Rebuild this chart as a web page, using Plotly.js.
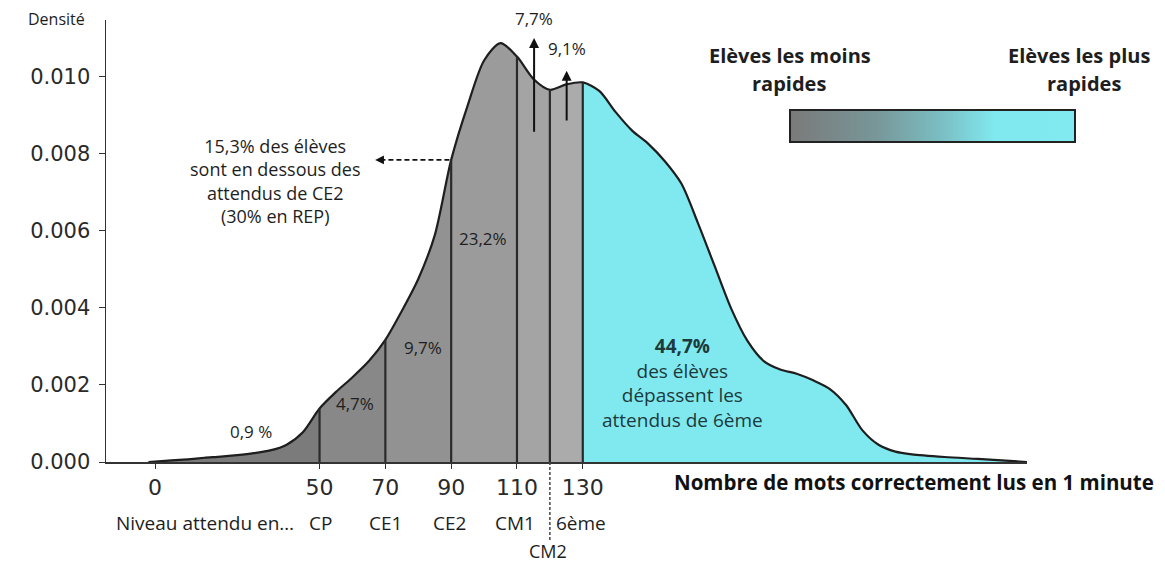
<!DOCTYPE html>
<html>
<head>
<meta charset="utf-8">
<script src="https://cdn.plot.ly/plotly-3.0.1.min.js"></script>
<style>html,body{margin:0;padding:0;background:#fff;}#chart{width:1165px;height:564px;}</style>
</head>
<body>
<div id="chart"></div>
<script>
// ---- data ----
const xVals = [-2, 5, 10, 15, 20, 25, 30, 35, 40, 45, 50, 55, 60, 65, 70, 75, 80, 85, 90, 95, 100, 105, 110, 115, 120, 125, 130, 135, 140, 145, 150, 155, 160, 165, 170, 175, 180, 185, 190, 195, 200, 205, 210, 215, 220, 225, 230, 240, 250, 265];
const density = [0.00000, 0.00004, 0.00007, 0.00011, 0.00014, 0.00018, 0.00023, 0.00030, 0.00045, 0.00078, 0.00139, 0.00182, 0.00220, 0.00262, 0.00317, 0.00392, 0.00475, 0.00588, 0.00784, 0.00925, 0.01042, 0.01087, 0.01052, 0.00994, 0.00966, 0.00980, 0.00985, 0.00963, 0.00908, 0.00860, 0.00825, 0.00780, 0.00722, 0.00620, 0.00510, 0.00400, 0.00315, 0.00262, 0.00240, 0.00229, 0.00212, 0.00190, 0.00148, 0.00082, 0.00044, 0.00027, 0.00020, 0.00013, 0.00008, 0.00000];
const boundaries = [50, 70, 90, 110, 120, 130];
const segmentColors = ['#7b7b7b', '#888888', '#929292', '#9b9b9b', '#a4a4a4', '#ababab', '#80e9ef'];
const xTickVals = [0, 50, 70, 90, 110, 130];
const yTickVals = [0, 0.002, 0.004, 0.006, 0.008, 0.010];
const levelLabels = ['Niveau attendu en…', 'CP', 'CE1', 'CE2', 'CM1', '6ème'];
const levelX = [15.2, 50.3, 70, 89.5, 109.5, 129.5];
const cm2Label = 'CM2';
const cm2X = 120;
const pctLabels = ['0,9 %', '4,7%', '9,7%', '23,2%', '9,1%'];
const pctX = [29.2, 60.8, 81.5, 99.7, 125.2];
const pctY = [0.00078, 0.00153, 0.00298, 0.00581, 0.01072];
const topLabel = '7,7%';
const topLabelX = 115.2;

const textFont = 'Open Sans, Noto Sans, sans-serif';
const dark = '#1e1e1e';

// ---- traces ----
const traces = [];
const edges = [xVals[0]].concat(boundaries, [xVals[xVals.length - 1]]);
for (let s = 0; s < edges.length - 1; s++) {
  const sx = [], sy = [];
  for (let i = 0; i < xVals.length; i++) {
    if (xVals[i] >= edges[s] && xVals[i] <= edges[s + 1]) { sx.push(xVals[i]); sy.push(density[i]); }
  }
  traces.push({
    type: 'scatter', x: sx, y: sy, mode: 'lines', fill: 'tozeroy',
    fillcolor: segmentColors[s], line: {width: 0, shape: 'spline', smoothing: 0.8},
    hoverinfo: 'skip', showlegend: false
  });
}
traces.push({
  type: 'scatter', x: xVals, y: density, mode: 'lines',
  line: {color: dark, width: 2.2, shape: 'spline', smoothing: 0.8},
  hoverinfo: 'skip', showlegend: false
});
// gradient "legend" bar via colorbar
traces.push({
  type: 'scatter', x: [null], y: [null], mode: 'markers', showlegend: false, hoverinfo: 'skip',
  marker: {
    color: [0], cmin: 0, cmax: 1,
    colorscale: [[0, '#7a7a7a'], [0.3, '#789698'], [0.55, '#7bc2c7'], [0.72, '#80e9ef'], [1, '#80eaf0']],
    showscale: true,
    colorbar: {
      orientation: 'h', x: 0.8974, xanchor: 'center', y: 0.758, yanchor: 'middle',
      len: 285, lenmode: 'pixels', thickness: 32, thicknessmode: 'pixels',
      outlinewidth: 2, outlinecolor: '#222', showticklabels: false, ticks: '',
      xpad: 0, ypad: 0, borderwidth: 0
    }
  }
});

// ---- shapes ----
const shapes = [];
boundaries.forEach(b => {
  const i = xVals.indexOf(b);
  shapes.push({type: 'line', xref: 'x', yref: 'y', x0: b, x1: b, y0: 0, y1: density[i],
    line: {color: '#2a2a2a', width: 2.2}});
});
shapes.push({type: 'line', xref: 'x', yref: 'paper', x0: cm2X, x1: cm2X, y0: 0, y1: -0.18,
  line: {color: '#444', width: 1.5, dash: '3px,2px'}});
// dashed leftward arrow shaft at CE2
const ce2Y = density[xVals.indexOf(90)];
shapes.push({type: 'line', xref: 'x', yref: 'y', x0: 68.5, x1: 89.6, y0: ce2Y, y1: ce2Y,
  line: {color: '#111', width: 1.6, dash: '5px,3px'}});

// ---- annotations ----
const ann = [];
pctLabels.forEach((t, k) => ann.push({xref: 'x', yref: 'y', x: pctX[k], y: pctY[k], text: t,
  xanchor: 'center', yanchor: 'middle', showarrow: false, font: {family: textFont, size: 17, color: dark}}));
ann.push({xref: 'x', yref: 'paper', x: topLabelX, y: (462 - 18) / 442, text: topLabel,
  xanchor: 'center', yanchor: 'middle', showarrow: false, font: {family: textFont, size: 17, color: dark}});
levelLabels.forEach((t, k) => ann.push({xref: 'x', yref: 'paper', x: levelX[k], y: 0, yshift: -61,
  xanchor: 'center', yanchor: 'middle',
  text: t, showarrow: false, font: {family: textFont, size: 19, color: dark}}));
ann.push({xref: 'x', yref: 'paper', x: cm2X - 0.5, y: 0, yshift: -89, text: cm2Label, showarrow: false,
  xanchor: 'center', yanchor: 'middle', font: {family: textFont, size: 18, color: dark}});
// arrows
ann.push({xref: 'x', yref: 'y', axref: 'x', ayref: 'y', x: 115.2, y: 0.0110, ax: 115.2, ay: 0.00853,
  text: '', showarrow: true, arrowhead: 2, arrowsize: 1, arrowwidth: 2, arrowcolor: '#111'});
ann.push({xref: 'x', yref: 'y', axref: 'x', ayref: 'y', x: 125.1, y: 0.01015, ax: 125.1, ay: 0.00882,
  text: '', showarrow: true, arrowhead: 2, arrowsize: 1, arrowwidth: 2, arrowcolor: '#111'});
ann.push({xref: 'x', yref: 'y', axref: 'x', ayref: 'y', x: 66.9, y: ce2Y, ax: 69.5, ay: ce2Y,
  text: '', showarrow: true, arrowhead: 2, arrowsize: 1.1, arrowwidth: 1.6, arrowcolor: '#111'});
// text blocks
ann.push({xref: 'x', yref: 'y', x: 36.5, y: 0.00729, xanchor: 'center', yanchor: 'middle',
  text: '15,3% des élèves<br>sont en dessous des<br>attendus de CE2<br>(30% en REP)',
  showarrow: false, align: 'center', font: {family: textFont, size: 18, color: dark}});
ann.push({xref: 'x', yref: 'y', x: 160.2, y: 0.00204, xanchor: 'center', yanchor: 'middle',
  text: '<b>44,7%</b><br>des élèves<br>dépassent les<br>attendus de 6ème',
  showarrow: false, align: 'center', font: {family: textFont, size: 19, color: '#1d3a3c'}});
// legend texts
const legFont = {family: textFont, size: 20, color: dark};
ann.push({xref: 'paper', yref: 'paper', x: (790 - 106) / 921, y: (462 - 55) / 442, text: '<b>Elèves les moins</b>',
  xanchor: 'center', yanchor: 'middle', showarrow: false, font: legFont});
ann.push({xref: 'paper', yref: 'paper', x: (789 - 106) / 921, y: (462 - 83) / 442, text: '<b>rapides</b>',
  xanchor: 'center', yanchor: 'middle', showarrow: false, font: legFont});
ann.push({xref: 'paper', yref: 'paper', x: (1079 - 106) / 921, y: (462 - 55) / 442, text: '<b>Elèves les plus</b>',
  xanchor: 'center', yanchor: 'middle', showarrow: false, font: legFont});
ann.push({xref: 'paper', yref: 'paper', x: (1084 - 106) / 921, y: (462 - 83) / 442, text: '<b>rapides</b>',
  xanchor: 'center', yanchor: 'middle', showarrow: false, font: legFont});
// axis titles
ann.push({xref: 'paper', yref: 'paper', x: (672 - 106) / 921, xanchor: 'left', y: 0, yanchor: 'middle', yshift: -20,
  text: '<b>Nombre de mots correctement lus en 1 minute</b>', showarrow: false,
  font: {family: textFont, size: 20.5, color: '#111'}});
ann.push({xref: 'paper', yref: 'paper', x: (56 - 106) / 921, y: (462 - 19) / 442, xanchor: 'center', yanchor: 'middle',
  text: 'Densité', showarrow: false, font: {family: textFont, size: 16, color: dark}});

const layout = {
  width: 1165, height: 564,
  margin: {l: 106, r: 138, t: 20, b: 102},
  paper_bgcolor: '#fff', plot_bgcolor: '#fff',
  showlegend: false,
  xaxis: {
    range: [-14.9, 265], tickvals: xTickVals, ticktext: xTickVals.map(String),
    showline: true, linecolor: '#333', linewidth: 1.5, ticks: 'outside', ticklen: 5, tickcolor: '#333',
    showgrid: false, zeroline: false, tickfont: {family: 'DejaVu Sans', size: 22, color: '#2a2a2a'}
  },
  yaxis: {
    range: [0, 0.01147], tickvals: yTickVals, tickformat: '.3f',
    showline: true, linecolor: '#333', linewidth: 1.5, ticks: 'outside', ticklen: 6, tickcolor: '#333',
    showgrid: false, zeroline: false, ticklabelstandoff: 4,
    tickfont: {family: 'DejaVu Sans', size: 21, color: '#2a2a2a'}
  },
  shapes: shapes,
  annotations: ann
};

Plotly.newPlot('chart', traces, layout, {displayModeBar: false, staticPlot: true});
</script>
</body>
</html>
